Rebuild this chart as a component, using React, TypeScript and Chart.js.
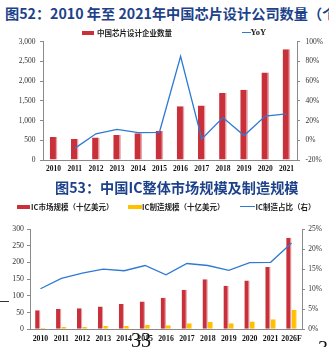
import React, { useEffect, useRef } from "react";
import { Chart, registerables } from "chart.js";
Chart.register(...registerables);

// ---- Chart 1 data ----
const years1 = ["2010","2011","2012","2013","2014","2015","2016","2017","2018","2019","2020","2021"];
const designCompanies = [582, 534, 569, 632, 681, 736, 1362, 1380, 1698, 1780, 2218, 2810];
const yoy = [null, -8.2, 6.6, 11.1, 7.8, 8.1, 85.1, 1.3, 23.0, 4.8, 24.6, 26.7];

// ---- Chart 2 data ----
const years2 = ["2010","2011","2012","2013","2014","2015","2016","2017","2018","2019","2020","2021","2026F"];
const icMarket = [57, 61, 63, 68, 76, 83, 94, 118, 150, 130, 146, 186, 274];
const icManufacturing = [5, 7, 7, 10, 10, 13, 12, 18, 22, 18, 23, 30, 58];
const icShare = [10.1, 12.7, 14.0, 15.0, 14.6, 15.9, 13.6, 16.4, 15.9, 14.7, 16.6, 16.7, 21.5];

const RED = "#C8303A";
const RED_EDGE = "#E9A3A8";
const YELLOW = "#FFC000";
const YELLOW_EDGE = "#FFE07A";
const BLUE = "#2E7AD4";
const SERIF = "'Liberation Serif', 'Times New Roman', serif";
const CJK = "'Noto Sans CJK SC', sans-serif";

function fixW(w: number) {
  return (s: any) => { s.width = w; };
}
function fixH(h: number) {
  return (s: any) => { s.height = h; };
}

function ChartOne() {
  const ref = useRef<HTMLCanvasElement>(null);
  useEffect(() => {
    const c = new Chart(ref.current!, {
      type: "bar",
      data: {
        labels: years1,
        datasets: [
          {
            type: "line",
            label: "YoY",
            data: yoy as any,
            yAxisID: "y1",
            borderColor: BLUE,
            borderWidth: 1.3,
            pointRadius: 0,
            tension: 0,
            order: 0,
          } as any,
          {
            type: "bar",
            label: "中国芯片设计企业数量",
            data: designCompanies,
            yAxisID: "y",
            backgroundColor: RED,
            borderColor: RED_EDGE,
            borderWidth: { top: 0, left: 0, bottom: 0, right: 1.5 },
            borderSkipped: false,
            categoryPercentage: 0.36,
            barPercentage: 1,
            order: 1,
          } as any,
        ],
      },
      options: {
        responsive: false,
        animation: false,
        events: [],
        layout: { padding: { top: 11.7, left: 0, right: 0, bottom: 0 } },
        plugins: { legend: { display: false }, tooltip: { enabled: false }, title: { display: false } },
        scales: {
          x: {
            grid: { display: false, drawTicks: false, tickLength: 0 },
            border: { display: true, color: "#8a8a8a", width: 1 },
            ticks: { font: { family: SERIF, size: 7.5, weight: "bold" }, color: "#111", padding: 4.5, maxRotation: 0, autoSkip: false },
            afterFit: fixH(20),
          },
          y: {
            position: "left",
            min: 0, max: 3000,
            ticks: { stepSize: 500, font: { family: SERIF, size: 7.5 }, color: "#333", padding: 4.5 },
            grid: { display: true, drawOnChartArea: false, drawTicks: true, tickLength: 3, color: "#8a8a8a" },
            border: { display: true, color: "#8a8a8a", width: 1 },
            afterFit: fixW(43),
          },
          y1: {
            position: "right",
            min: -20, max: 100,
            ticks: { stepSize: 20, font: { family: SERIF, size: 7.5 }, color: "#333", padding: 5.5, callback: (v: any) => v + "%" },
            grid: { display: true, drawOnChartArea: false, drawTicks: true, tickLength: 3, color: "#8a8a8a" },
            border: { display: true, color: "#8a8a8a", width: 1 },
            afterFit: fixW(32),
          },
        },
      } as any,
    });
    return () => c.destroy();
  }, []);
  return <canvas ref={ref} width={329} height={150} style={{ position: "absolute", left: 0, top: 30, width: 329, height: 150, display: "block" }} />;
}

function ChartTwo() {
  const ref = useRef<HTMLCanvasElement>(null);
  useEffect(() => {
    const c = new Chart(ref.current!, {
      type: "bar",
      data: {
        labels: years2,
        datasets: [
          {
            type: "line",
            label: "IC制造占比（右）",
            data: icShare,
            yAxisID: "y1",
            borderColor: BLUE,
            borderWidth: 1.3,
            pointRadius: 0,
            tension: 0,
            order: 0,
          } as any,
          {
            type: "bar",
            label: "IC市场规模（十亿美元）",
            data: icMarket,
            yAxisID: "y",
            backgroundColor: RED,
            borderColor: RED_EDGE,
            borderWidth: { top: 0, left: 0, bottom: 0, right: 1.2 },
            borderSkipped: false,
            categoryPercentage: 0.51,
            barPercentage: 1,
            order: 1,
          } as any,
          {
            type: "bar",
            label: "IC制造规模（十亿美元）",
            data: icManufacturing,
            yAxisID: "y",
            backgroundColor: YELLOW,
            borderColor: YELLOW_EDGE,
            borderWidth: { top: 0, left: 0, bottom: 0, right: 1 },
            borderSkipped: false,
            categoryPercentage: 0.51,
            barPercentage: 1,
            order: 1,
          } as any,
        ],
      },
      options: {
        responsive: false,
        animation: false,
        events: [],
        layout: { padding: { top: 14, left: 0, right: 0, bottom: 0 } },
        plugins: { legend: { display: false }, tooltip: { enabled: false }, title: { display: false } },
        scales: {
          x: {
            grid: { display: false, drawTicks: false, tickLength: 0 },
            border: { display: true, color: "#8a8a8a", width: 1 },
            ticks: { font: { family: SERIF, size: 7.8, weight: "bold" }, color: "#111", padding: 4.5, maxRotation: 0, autoSkip: false },
            afterFit: fixH(17.7),
          },
          y: {
            position: "left",
            min: 0, max: 300,
            ticks: { stepSize: 50, font: { family: SERIF, size: 7.8 }, color: "#333", padding: 3 },
            grid: { display: true, drawOnChartArea: false, drawTicks: true, tickLength: 3, color: "#8a8a8a" },
            border: { display: true, color: "#8a8a8a", width: 1 },
            afterFit: fixW(30),
          },
          y1: {
            position: "right",
            min: 0, max: 25,
            ticks: { stepSize: 5, font: { family: SERIF, size: 7.5 }, color: "#333", padding: 3.3, callback: (v: any) => v + "%" },
            grid: { display: true, drawOnChartArea: false, drawTicks: true, tickLength: 3, color: "#8a8a8a" },
            border: { display: true, color: "#8a8a8a", width: 1 },
            afterFit: fixW(27),
          },
        },
      } as any,
    });
    return () => c.destroy();
  }, []);
  return <canvas ref={ref} width={329} height={132} style={{ position: "absolute", left: 0, top: 215, width: 329, height: 132, display: "block" }} />;
}

const legendText: React.CSSProperties = {
  position: "absolute",
  fontFamily: CJK,
  fontSize: 7.5,
  fontWeight: 700,
  color: "#222",
  lineHeight: "9px",
  whiteSpace: "nowrap",
};

export default function App() {
  const titleStyle: React.CSSProperties = {
    position: "absolute",
    fontFamily: CJK,
    fontWeight: 700,
    fontSize: 14.2,
    lineHeight: "15px",
    color: "#1D428A",
    whiteSpace: "nowrap",
  };
  return (
    <div style={{ position: "absolute", left: 0, top: 0, width: 329, height: 347, overflow: "hidden", background: "#fff" }}>
      <div style={{ ...titleStyle, left: 5, top: 6 }}>图52：2010 年至 2021年中国芯片设计公司数量（个）</div>
      <ChartOne />
      {/* legend chart 1 */}
      <div style={{ position: "absolute", left: 81.5, top: 31, width: 12, height: 3.5, background: RED }} />
      <div style={{ ...legendText, left: 97, top: 28 }}>中国芯片设计企业数量</div>
      <div style={{ position: "absolute", left: 242, top: 32, width: 8.5, height: 1.3, background: BLUE }} />
      <div style={{ ...legendText, fontFamily: SERIF, fontSize: 8.5, left: 250.5, top: 27.5 }}>YoY</div>

      <div style={{ ...titleStyle, left: 55, top: 180 }}>图53：中国IC整体市场规模及制造规模</div>
      <ChartTwo />
      {/* legend chart 2 */}
      <div style={{ position: "absolute", left: 17, top: 205, width: 13, height: 3.5, background: RED }} />
      <div style={{ ...legendText, left: 31, top: 202 }}>IC市场规模（十亿美元）</div>
      <div style={{ position: "absolute", left: 128, top: 205, width: 13.5, height: 3.5, background: YELLOW }} />
      <div style={{ ...legendText, left: 142, top: 202 }}>IC制造规模（十亿美元）</div>
      <div style={{ position: "absolute", left: 240, top: 206, width: 15, height: 1.3, background: BLUE }} />
      <div style={{ ...legendText, left: 255.5, top: 202 }}>IC制造占比（右）</div>

      {/* page artifacts */}
      <div style={{ position: "absolute", left: 0, top: 301, width: 8.5, height: 1, background: "#333" }} />
      <div style={{ position: "absolute", left: 131, top: 330, fontFamily: SERIF, fontSize: 20, lineHeight: "20px", color: "#111" }}>33</div>
      <div style={{ position: "absolute", left: 318, top: 338, fontFamily: SERIF, fontSize: 20, lineHeight: "20px", color: "#111" }}>33</div>
    </div>
  );
}
